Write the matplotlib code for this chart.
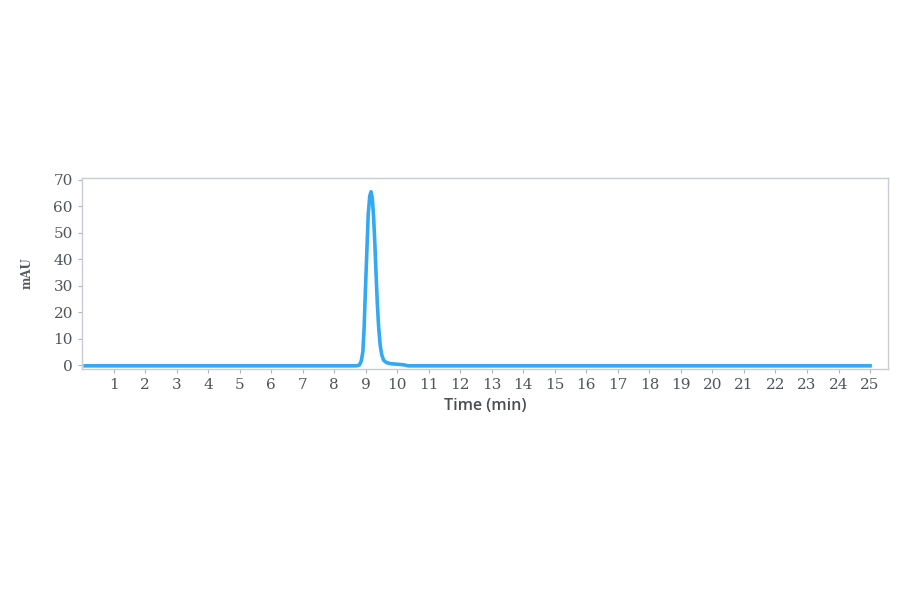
import matplotlib.pyplot as plt
import numpy as np

# chromatogram samples
time_min = [0.1, 2.0, 4.0, 6.0, 8.0, 8.7, 8.8, 8.86, 8.91, 8.95, 8.99, 9.04, 9.08,
            9.13, 9.17, 9.21, 9.25, 9.29, 9.33, 9.37, 9.41, 9.46, 9.51, 9.57, 9.66,
            9.8, 10.0, 10.2, 10.35, 12.0, 16.0, 20.0, 25.0]
signal_mau = [-0.3, -0.3, -0.3, -0.3, -0.3, -0.3, 0.0, 1.5, 5.0, 14.0, 28.0, 44.0, 57.0,
              64.0, 65.5, 63.0, 56.0, 46.0, 34.0, 23.0, 14.5, 7.5, 3.8, 1.8, 0.9,
              0.5, 0.3, 0.1, -0.3, -0.3, -0.3, -0.3, -0.3]

x_ticks = list(range(1, 26))
y_ticks = [0, 10, 20, 30, 40, 50, 60, 70]

fig = plt.figure(figsize=(9, 5.94), dpi=100)
ax = fig.add_axes([0.0911, 0.3788, 0.8956, 0.3215])

ax.plot(time_min, signal_mau, color='#33a9f3', linewidth=2.6, solid_joinstyle='round')

ax.set_xlim(0, 25.57)
ax.set_ylim(-1.5, 70.7)
ax.set_xticks(x_ticks)
ax.set_yticks(y_ticks)

for side in ax.spines.values():
    side.set_color('#c8ccd2')
    side.set_linewidth(1.0)

ax.tick_params(axis='both', colors='#b0b4ba', length=3, width=0.8,
               labelcolor='#50555b', labelsize=11)
for lab in ax.get_xticklabels() + ax.get_yticklabels():
    lab.set_family('DejaVu Serif')

ax.set_xlabel('Time (min)', fontsize=11.5, color='#4a4f55', family='Open Sans',
              fontweight='semibold', labelpad=4)
ax.set_ylabel('mAU', fontsize=8.5, color='#555a60', family='DejaVu Serif',
              fontweight='bold', labelpad=14)

fig.savefig('out.png', dpi=100)
